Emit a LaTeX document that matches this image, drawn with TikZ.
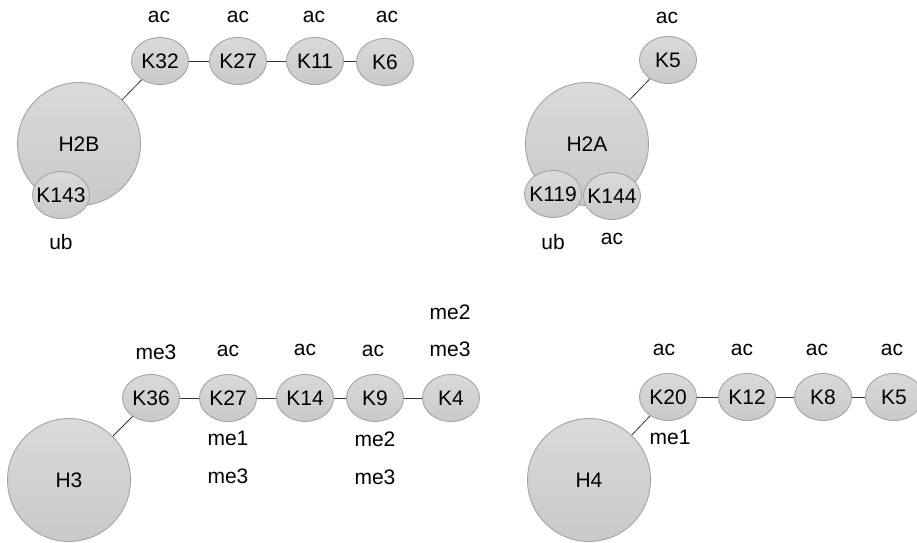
\documentclass[tikz,border=0pt]{standalone}
\usepackage{fontspec}
\setmainfont{Liberation Sans}
\usetikzlibrary{shapes.geometric}
\definecolor{ntop}{HTML}{DADADA}
\definecolor{nbot}{HTML}{C9C9C9}
\definecolor{nedge}{HTML}{A3A3A3}
\definecolor{link}{HTML}{333333}
% text of zero width, so that an ellipse keeps its minimum size
\newcommand\lys[1]{\makebox[0pt]{#1}}
\tikzset{
  base/.style={draw=nedge, line width=0.9pt, top color=ntop, bottom color=nbot,
    inner sep=0pt, font=\fontsize{21}{25}\selectfont},
  histone/.style={base, circle, minimum size=123pt},
  lysine/.style={base, ellipse, minimum width=57pt, minimum height=47pt},
  lbl/.style={inner sep=0pt, font=\fontsize{21}{25}\selectfont},
  bond/.style={draw=link, line width=0.8pt}
}
\begin{document}
\begin{tikzpicture}[x=1pt,y=-1pt]
\useasboundingbox (0,0) rectangle (917,542);

% ---- H2B ----
\node[histone] (h2b) at (79,144) {H2B};
\node[lysine] (h2b-k143) at (61,195) {\lys{K143}};
\node[lysine] (h2b-k32) at (160,61) {\lys{K32}};
\node[lysine] (h2b-k27) at (238,61) {\lys{K27}};
\node[lysine] (h2b-k11) at (315,61) {\lys{K11}};
\node[lysine] (h2b-k6) at (385,62) {\lys{K6}};
\draw[bond] (h2b) -- (h2b-k32);
\draw[bond] (h2b-k32) -- (h2b-k27);
\draw[bond] (h2b-k27) -- (h2b-k11);
\draw[bond] (h2b-k11) -- (h2b-k6);
\node[lbl] (h2b-l32) at (159,17) {ac};
\node[lbl] (h2b-l27) at (238,17) {ac};
\node[lbl] (h2b-l11) at (314,17) {ac};
\node[lbl] (h2b-l6) at (387,17) {ac};
\node[lbl] (h2b-l143) at (61,242) {ub};

% ---- H2A ----
\node[histone] (h2a) at (587,144) {H2A};
\node[lysine] (h2a-k119) at (553,194) {\lys{K119}};
\node[lysine] (h2a-k144) at (612,196) {\lys{K144}};
\node[lysine] (h2a-k5) at (668,60) {\lys{K5}};
\draw[bond] (h2a) -- (h2a-k5);
\node[lbl] (h2a-l5) at (667,18) {ac};
\node[lbl] (h2a-l119) at (553,242) {ub};
\node[lbl] (h2a-l144) at (612,239) {ac};

% ---- H3 ----
\node[histone] (h3) at (69,480) {H3};
\node[lysine] (h3-k36) at (151,398) {\lys{K36}};
\node[lysine] (h3-k27) at (228,398) {\lys{K27}};
\node[lysine] (h3-k14) at (305,398) {\lys{K14}};
\node[lysine] (h3-k9) at (375,398) {\lys{K9}};
\node[lysine] (h3-k4) at (451,398) {\lys{K4}};
\draw[bond] (h3) -- (h3-k36);
\draw[bond] (h3-k36) -- (h3-k27);
\draw[bond] (h3-k27) -- (h3-k14);
\draw[bond] (h3-k14) -- (h3-k9);
\draw[bond] (h3-k9) -- (h3-k4);
\node[lbl] (h3-l36) at (156,352) {me3};
\node[lbl] (h3-l27a) at (228,351) {ac};
\node[lbl] (h3-l14) at (305,350) {ac};
\node[lbl] (h3-l9a) at (373,351) {ac};
\node[lbl] (h3-l4a) at (450,312) {me2};
\node[lbl] (h3-l4b) at (450,349) {me3};
\node[lbl] (h3-l27b) at (228,438) {me1};
\node[lbl] (h3-l27c) at (228,476) {me3};
\node[lbl] (h3-l9b) at (375,439) {me2};
\node[lbl] (h3-l9c) at (375,477) {me3};

% ---- H4 ----
\node[histone] (h4) at (589,480) {H4};
\node[lysine] (h4-k20) at (668,397) {\lys{K20}};
\node[lysine] (h4-k12) at (747,397) {\lys{K12}};
\node[lysine] (h4-k8) at (823,397) {\lys{K8}};
\node[lysine] (h4-k5) at (894,397) {\lys{K5}};
\draw[bond] (h4) -- (h4-k20);
\draw[bond] (h4-k20) -- (h4-k12);
\draw[bond] (h4-k12) -- (h4-k8);
\draw[bond] (h4-k8) -- (h4-k5);
\node[lbl] (h4-l20) at (664,350) {ac};
\node[lbl] (h4-l12) at (742,350) {ac};
\node[lbl] (h4-l8) at (817,350) {ac};
\node[lbl] (h4-l5) at (892,350) {ac};
\node[lbl] (h4-l20b) at (670,437) {me1};
\end{tikzpicture}
\end{document}
